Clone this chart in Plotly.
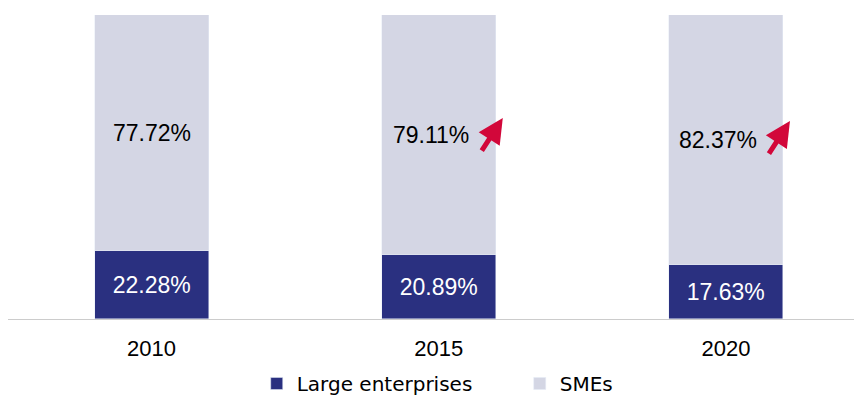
import plotly.graph_objects as go

years = ["2010", "2015", "2020"]
large = [22.28, 20.89, 17.63]
smes = [77.72, 79.11, 82.37]

NAVY = "#2A3080"
LIGHT = "#D4D6E4"
RED = "#D2073A"
LABEL_FONT = "Liberation Sans"
LEGEND_FONT = "DejaVu Sans"

xpos = [0, 1, 2]

fig = go.Figure()
fig.add_trace(go.Bar(
    x=xpos, y=large, name="Large enterprises", marker_color=NAVY,
    width=0.397, text=[f"{v:.2f}%" for v in large], textposition="inside",
    insidetextanchor="middle", textangle=0,
    textfont=dict(color="white", size=23, family=LABEL_FONT),
))
fig.add_trace(go.Bar(
    x=xpos, y=smes, name="SMEs", marker_color=LIGHT, width=0.397,
))

# SME share labels, nudged left on the rising years to leave room for arrows
shifts = [0, -8, -8]
for x, base, v, s in zip(xpos, large, smes, shifts):
    fig.add_annotation(x=x, y=base + v / 2, text=f"{v:.2f}%", showarrow=False,
                       xshift=s, font=dict(color="black", size=23, family=LABEL_FONT))

# red upward arrows marking the growing SME share
for hx, hy in [(1.223, 66.1), (2.223, 65.1)]:
    fig.add_annotation(x=hx, y=hy, ax=-22, ay=34, text="", showarrow=True,
                       arrowhead=2, arrowsize=1.0, arrowwidth=5, arrowcolor=RED)

fig.update_layout(
    barmode="stack",
    width=854, height=396,
    margin=dict(l=8, r=0, t=15, b=77, autoexpand=False),
    plot_bgcolor="white", paper_bgcolor="white",
    showlegend=True,
    legend=dict(orientation="h", x=0.294, xanchor="left", y=-0.148, yanchor="top",
                font=dict(size=20, family=LEGEND_FONT, color="black"), itemwidth=30,
                entrywidth=218, entrywidthmode="pixels",
                traceorder="normal"),
    bargap=0,
)
fig.update_xaxes(
    tickmode="array", tickvals=xpos, ticktext=years,
    range=[-0.5, 2.446], showgrid=False, zeroline=False,
    showline=True, linecolor="#CCCCCC", linewidth=1,
    tickfont=dict(size=22, family=LABEL_FONT, color="black"),
    ticks="", ticklabelstandoff=10,
)
fig.update_yaxes(range=[0, 100], visible=False)

fig.write_html("out.html")
